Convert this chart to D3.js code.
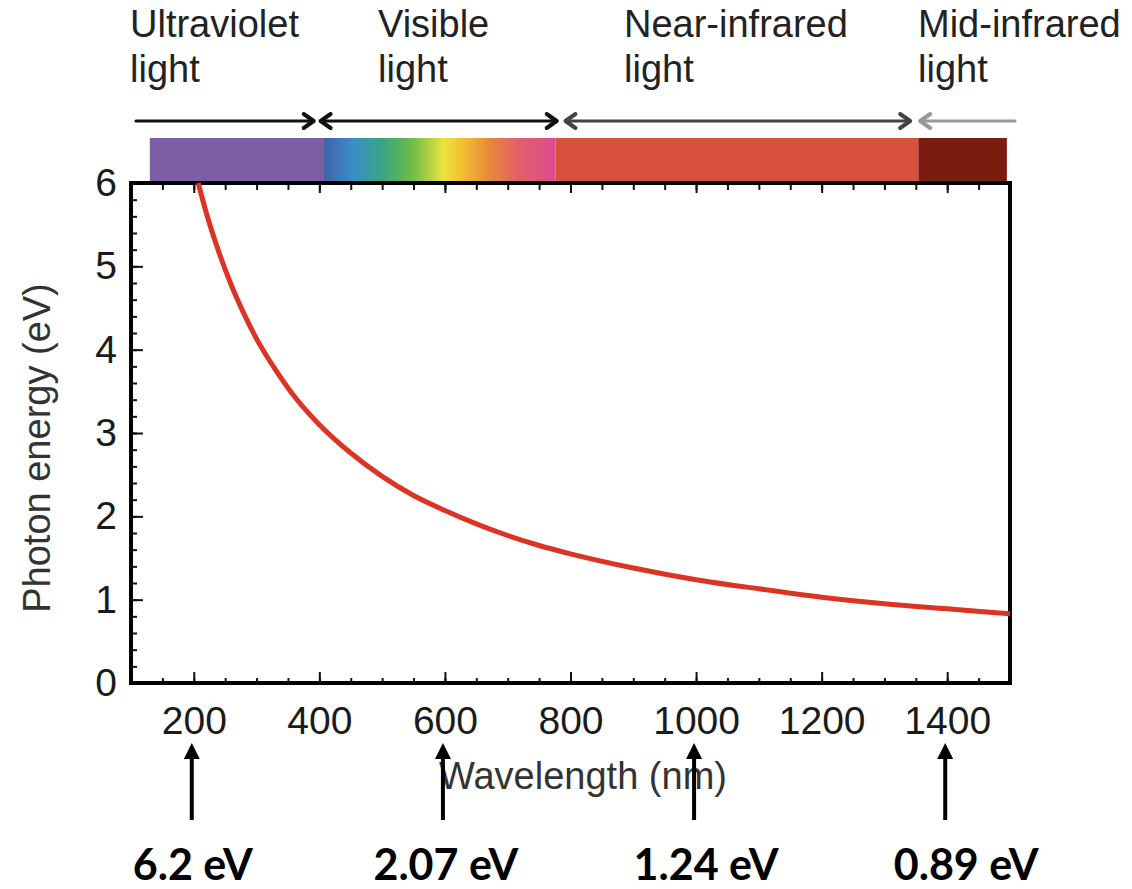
<!DOCTYPE html>
<html>
<head>
<meta charset="utf-8">
<script src="https://cdn.jsdelivr.net/npm/d3@7"></script>
<style>
  html, body { margin: 0; padding: 0; background: #fff; }
  svg { display: block; }
</style>
</head>
<body>
<svg id="chart" width="1132" height="889"></svg>
<script>
// ---------------- DATA ----------------
const wavelengths = [207, 220, 240, 260, 280, 300, 330, 360, 400, 450, 500, 550, 600, 650, 700, 750, 800, 900, 1000, 1100, 1200, 1300, 1400, 1500];
const energies    = [6.0, 5.64, 5.17, 4.77, 4.43, 4.13, 3.76, 3.44, 3.10, 2.76, 2.48, 2.25, 2.07, 1.91, 1.77, 1.65, 1.55, 1.38, 1.24, 1.13, 1.03, 0.95, 0.89, 0.83];

const xTicks = [200, 400, 600, 800, 1000, 1200, 1400];
const yTicks = [0, 1, 2, 3, 4, 5, 6];

const bandNames  = ["Ultraviolet", "Visible", "Near-infrared", "Mid-infrared"];
const bandStart  = [130, 406, 776, 1354];
const bandEnd    = [406, 776, 1354, 1495];
const arrowFrom  = [108, 402, 792, 1357];
const arrowTo    = [391, 778, 1341, 1508];

const annotWavelengths = [200, 600, 1000, 1400];
const annotLabels = ["6.2 eV", "2.07 eV", "1.24 eV", "0.89 eV"];

const xTitle = "Wavelength (nm)";
const yTitle = "Photon energy (eV)";

// ---------------- LAYOUT / STYLE ----------------
const svg = d3.select("#chart");
const plot = { left: 131, right: 1010, top: 183, bottom: 683 };
const x = d3.scaleLinear().domain([100, 1500]).range([plot.left, plot.right]);
const y = d3.scaleLinear().domain([0, 6]).range([plot.bottom, plot.top]);

const bandFill = ["#7d5ea6", "url(#visGrad)", "#d9503f", "#7a1d10"];
const arrowColor = ["#111", "#111", "#444", "#999"];
const arrowHeads = [[false, true], [true, true], [true, true], [true, false]];
const labelX = [130, 378, 624, 918];
const annotDx = [1, 3, 12, 21];
const textFont = "'Liberation Sans', Arial, Helvetica, sans-serif";

// gradient for the visible band
const defs = svg.append("defs");
const grad = defs.append("linearGradient").attr("id", "visGrad")
  .attr("x1", "0%").attr("x2", "100%").attr("y1", "0%").attr("y2", "0%");
[[0, "#4160aa"], [0.13, "#3a8ec6"], [0.26, "#3aa682"], [0.38, "#6cbc48"],
 [0.52, "#ece23e"], [0.59, "#f1c530"], [0.71, "#e98a3a"], [0.84, "#e1606a"], [0.98, "#df4c8c"], [1, "#df4c8c"]]
  .forEach(s => grad.append("stop").attr("offset", s[0]).attr("stop-color", s[1]));

// ---------------- BAND BAR ----------------
const barTop = 138, barBottom = 181;
svg.append("g").selectAll("rect").data(bandNames).join("rect")
  .attr("x", (d, i) => x(bandStart[i]))
  .attr("width", (d, i) => x(bandEnd[i]) - x(bandStart[i]))
  .attr("y", barTop).attr("height", barBottom - barTop)
  .attr("fill", (d, i) => bandFill[i]);

// arrows above bar
const arrowY = 121;
const ag = svg.append("g");
bandNames.forEach((d, i) => {
  const x0 = x(arrowFrom[i]), x1 = x(arrowTo[i]);
  const g = ag.append("g").attr("stroke", arrowColor[i]).attr("fill", "none")
    .attr("stroke-width", 3).attr("stroke-linecap", "round").attr("stroke-linejoin", "round");
  g.append("line").attr("x1", x0).attr("x2", x1).attr("y1", arrowY).attr("y2", arrowY);
  if (arrowHeads[i][0]) g.append("path").attr("d", `M${x0 + 10},${arrowY - 7} L${x0},${arrowY} L${x0 + 10},${arrowY + 7}`).attr("stroke-width", 4);
  if (arrowHeads[i][1]) g.append("path").attr("d", `M${x1 - 10},${arrowY - 7} L${x1},${arrowY} L${x1 - 10},${arrowY + 7}`).attr("stroke-width", 4);
});

// band labels
const lg = svg.append("g").attr("font-family", textFont).attr("font-size", 38).attr("fill", "#222");
bandNames.forEach((d, i) => {
  const t = lg.append("text").attr("x", labelX[i]).attr("y", 37);
  t.append("tspan").attr("x", labelX[i]).attr("dy", 0).text(d);
  t.append("tspan").attr("x", labelX[i]).attr("dy", 45).text("light");
});

// ---------------- AXES ----------------
const tickFont = g => g.selectAll("text").attr("font-family", textFont).attr("font-size", 39).attr("fill", "#1a1a1a");

// bottom minor ticks
svg.append("g").attr("transform", `translate(0,${plot.bottom})`)
  .call(d3.axisBottom(x).tickValues(d3.range(100, 1501, 50)).tickSize(-5).tickFormat(""))
  .call(g => g.select(".domain").remove())
  .call(g => g.selectAll("line").attr("stroke", "#111").attr("stroke-width", 2));
// bottom major ticks + labels
svg.append("g").attr("transform", `translate(0,${plot.bottom})`)
  .call(d3.axisBottom(x).tickValues(xTicks).tickSize(-11).tickPadding(23).tickFormat(d3.format("d")))
  .call(g => g.select(".domain").remove())
  .call(g => g.selectAll("line").attr("stroke", "#111").attr("stroke-width", 2))
  .call(tickFont);

// top ticks
svg.append("g").attr("transform", `translate(0,${plot.top})`)
  .call(d3.axisTop(x).tickValues(d3.range(100, 1501, 50)).tickSize(-7).tickFormat(""))
  .call(g => g.select(".domain").remove())
  .call(g => g.selectAll("line").attr("stroke", "#111").attr("stroke-width", 2));
svg.append("g").attr("transform", `translate(0,${plot.top})`)
  .call(d3.axisTop(x).tickValues(xTicks).tickSize(-10).tickFormat(""))
  .call(g => g.select(".domain").remove())
  .call(g => g.selectAll("line").attr("stroke", "#111").attr("stroke-width", 2));

// left minor ticks
svg.append("g").attr("transform", `translate(${plot.left},0)`)
  .call(d3.axisLeft(y).tickValues(d3.range(0, 6.01, 0.2)).tickSize(-6).tickFormat(""))
  .call(g => g.select(".domain").remove())
  .call(g => g.selectAll("line").attr("stroke", "#111").attr("stroke-width", 2));
// left major ticks + labels
svg.append("g").attr("transform", `translate(${plot.left},0)`)
  .call(d3.axisLeft(y).tickValues(yTicks).tickSize(-12).tickPadding(14).tickFormat(d3.format("d")))
  .call(g => g.select(".domain").remove())
  .call(g => g.selectAll("line").attr("stroke", "#111").attr("stroke-width", 2))
  .call(tickFont);

// frame
svg.append("rect")
  .attr("x", plot.left).attr("y", plot.top)
  .attr("width", plot.right - plot.left).attr("height", plot.bottom - plot.top)
  .attr("fill", "none").attr("stroke", "#000").attr("stroke-width", 4);

// axis titles
svg.append("text").attr("x", 583).attr("y", 789).attr("text-anchor", "middle")
  .attr("font-family", textFont).attr("font-size", 38).attr("fill", "#333").text(xTitle);
svg.append("text").attr("transform", "translate(50,448) rotate(-90)").attr("text-anchor", "middle")
  .attr("font-family", textFont).attr("font-size", 38).attr("fill", "#333").text(yTitle);

// ---------------- CURVE ----------------
const pts = wavelengths.map((w, i) => [w, energies[i]]);
svg.append("path").datum(pts)
  .attr("fill", "none").attr("stroke", "#dc3322").attr("stroke-width", 5)
  .attr("d", d3.line().x(d => x(d[0])).y(d => y(d[1])).curve(d3.curveMonotoneX));

// ---------------- ANNOTATIONS ----------------
const an = svg.append("g");
annotWavelengths.forEach((w, i) => {
  const ax = x(w) - 2;
  an.append("line").attr("x1", ax).attr("x2", ax).attr("y1", 820).attr("y2", 755)
    .attr("stroke", "#000").attr("stroke-width", 4);
  an.append("path").attr("d", `M${ax - 8},${759} L${ax},${743} L${ax + 8},${759} Z`).attr("fill", "#000");
  an.append("text").attr("x", ax + annotDx[i]).attr("y", 880).attr("text-anchor", "middle")
    .attr("font-family", "Lato, 'Open Sans', sans-serif").attr("font-weight", 700)
    .attr("font-size", 43).attr("fill", "#000").text(annotLabels[i]);
});
</script>
</body>
</html>
